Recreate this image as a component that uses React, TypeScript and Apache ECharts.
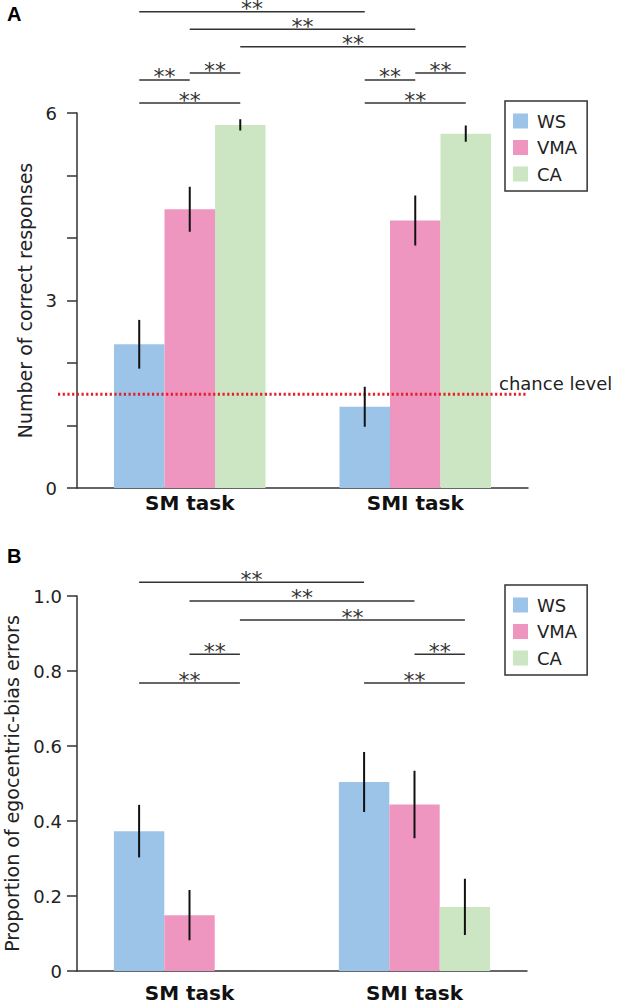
import React, { useEffect, useRef } from 'react';
import * as echarts from 'echarts';

const categories = ['SM task', 'SMI task'];
const groups = ['WS', 'VMA', 'CA'];
const colors = ['#9CC3E8', '#EE96BF', '#CCE5C2'];

// Panel A: number of correct responses (mean, SE)
const correctWS = [2.3, 1.3];
const correctVMA = [4.46, 4.28];
const correctCA = [5.81, 5.67];
const correctWSErr = [0.39, 0.32];
const correctVMAErr = [0.36, 0.4];
const correctCAErr = [0.09, 0.13];
const chanceLevel = 1.5;
const correctTickLabels = [0, 3, 6];

// Panel B: proportion of egocentric-bias errors (mean, SE)
const egoWS = [0.373, 0.504];
const egoVMA = [0.149, 0.444];
const egoCA = [0, 0.171];
const egoWSErr = [0.07, 0.08];
const egoVMAErr = [0.067, 0.09];
const egoCAErr = [0, 0.075];

// significance pairs: [group1, bar1, group2, bar2]
const correctSigPairs = [
  [0, 0, 1, 0], [0, 1, 1, 1], [0, 2, 1, 2],
  [0, 1, 0, 2], [0, 0, 0, 1], [0, 0, 0, 2],
  [1, 1, 1, 2], [1, 0, 1, 1], [1, 0, 1, 2],
];
const correctSigLevels = [7.62, 7.34, 7.06, 6.64, 6.53, 6.16, 6.64, 6.53, 6.16];
const egoSigPairs = [
  [0, 0, 1, 0], [0, 1, 1, 1], [0, 2, 1, 2],
  [0, 1, 0, 2], [0, 0, 0, 2],
  [1, 1, 1, 2], [1, 0, 1, 2],
];
const egoSigLevels = [1.037, 0.987, 0.936, 0.845, 0.768, 0.845, 0.768];

const FONT = 'DejaVu Sans';
const BAR_FRAC = 0.224;
const AX = '#333';

function errorData(vals: number[][], errs: number[][]) {
  const out: number[][] = [];
  vals.forEach((arr, i) => arr.forEach((v, c) => out.push([c, i, v, errs[i][c]])));
  return out;
}

function sigData(pairs: number[][], levels: number[]) {
  return pairs.map((p, i) => [...p, levels[i]]);
}

const errorRender = (params: any, api: any) => {
  const e = api.value(3);
  if (!e) return null;
  const cat = api.value(0);
  const s = api.value(1);
  const v = api.value(2);
  const bw = api.size([1, 0])[0] * BAR_FRAC;
  const cx = api.coord([cat, 0])[0] + (s - 1) * bw;
  const y1 = api.coord([cat, v + e])[1];
  const y2 = api.coord([cat, v - e])[1];
  return { type: 'line', shape: { x1: cx, y1, x2: cx, y2 }, style: { stroke: '#111', lineWidth: 2 } };
};

const sigRender = (params: any, api: any) => {
  const bw = api.size([1, 0])[0] * BAR_FRAC;
  const x1 = api.coord([api.value(0), 0])[0] + (api.value(1) - 1) * bw;
  const x2 = api.coord([api.value(2), 0])[0] + (api.value(3) - 1) * bw;
  const y = api.coord([0, api.value(4)])[1];
  return {
    type: 'group',
    children: [
      { type: 'line', shape: { x1, y1: y, x2, y2: y }, style: { stroke: AX, lineWidth: 1.5 } },
      {
        type: 'text',
        style: { text: '**', x: (x1 + x2) / 2, y: y - 14, align: 'center', verticalAlign: 'top', fontSize: 22, lineHeight: 22, fill: '#333', fontFamily: FONT },
      },
    ],
  };
};

const chanceRender = (params: any, api: any) => {
  const cs = params.coordSys;
  const y = api.coord([0, api.value(1)])[1];
  return {
    type: 'group',
    children: [
      { type: 'line', shape: { x1: cs.x - 19, y1: y, x2: cs.x + cs.width, y2: y }, style: { stroke: '#E3202A', lineWidth: 3, lineDash: [2.2, 2.5] } },
      { type: 'text', style: { text: 'chance level', x: cs.x + cs.width - 29, y: y - 11, align: 'left', verticalAlign: 'middle', fontSize: 18, fill: '#222', fontFamily: FONT } },
    ],
  };
};

export default function App() {
  const ref = useRef<HTMLDivElement>(null);
  useEffect(() => {
    document.body.style.margin = '0';
    const chart = echarts.init(ref.current!, null, { renderer: 'svg' });
    const correctVals = [correctWS, correctVMA, correctCA];
    const correctErrs = [correctWSErr, correctVMAErr, correctCAErr];
    const egoVals = [egoWS, egoVMA, egoCA];
    const egoErrs = [egoWSErr, egoVMAErr, egoCAErr];

    const axisLine = { show: true, lineStyle: { color: AX, width: 1.5 } };
    const xAxisBase = (gridIndex: number, margin: number) => ({
      type: 'category',
      gridIndex,
      data: categories,
      axisTick: { show: false },
      axisLine,
      axisLabel: { fontSize: 20, fontWeight: 'bold', color: '#111', margin, lineHeight: 20, fontFamily: FONT },
    });
    const legendBase = (top: number) => ({
      data: groups,
      orient: 'vertical',
      left: 505,
      top,
      icon: 'rect',
      itemWidth: 15,
      itemHeight: 15,
      itemGap: 6.5,
      borderColor: AX,
      borderWidth: 1.5,
      padding: [10, 10, 7, 8],
      selectedMode: false,
      textStyle: { fontSize: 18, color: '#222', lineHeight: 20, padding: [0, 0, 0, 4], fontFamily: FONT },
    });

    const series: any[] = [];
    [0, 1].forEach((gi) => {
      const vals = gi === 0 ? correctVals : egoVals;
      const errs = gi === 0 ? correctErrs : egoErrs;
      groups.forEach((g, i) => {
        series.push({
          type: 'bar',
          name: g,
          xAxisIndex: gi,
          yAxisIndex: gi,
          data: vals[i],
          barWidth: BAR_FRAC * 100 + '%',
          barGap: '0%',
          itemStyle: { color: colors[i] },
          silent: true,
          z: 2,
        });
      });
      series.push({
        type: 'custom',
        xAxisIndex: gi,
        yAxisIndex: gi,
        data: errorData(vals, errs),
        encode: { x: 0, y: 2 },
        renderItem: errorRender,
        silent: true,
        z: 5,
      });
      series.push({
        type: 'custom',
        xAxisIndex: gi,
        yAxisIndex: gi,
        data: gi === 0 ? sigData(correctSigPairs, correctSigLevels) : sigData(egoSigPairs, egoSigLevels),
        encode: { x: 0, y: 4 },
        renderItem: sigRender,
        clip: false,
        silent: true,
        z: 5,
      });
    });
    series.push({
      type: 'custom',
      xAxisIndex: 0,
      yAxisIndex: 0,
      data: [[0, chanceLevel]],
      encode: { x: 0, y: 1 },
      renderItem: chanceRender,
      clip: false,
      silent: true,
      z: 4,
    });

    chart.setOption({
      animation: false,
      textStyle: { fontFamily: FONT },
      grid: [
        { left: 77, top: 113, width: 451, height: 375, outerBoundsMode: 'none', containLabel: false },
        { left: 77, top: 596, width: 450, height: 375, outerBoundsMode: 'none', containLabel: false },
      ],
      xAxis: [xAxisBase(0, 5), xAxisBase(1, 12)],
      yAxis: [
        {
          type: 'value',
          gridIndex: 0,
          min: 0,
          max: 6,
          interval: 1,
          splitLine: { show: false },
          axisLine,
          axisTick: { show: true, length: 10, lineStyle: { color: AX, width: 1.5 } },
          axisLabel: {
            fontSize: 18,
            color: '#222',
            margin: 20,
            fontFamily: FONT,
            formatter: (v: number) => (correctTickLabels.includes(v) ? String(v) : ''),
          },
          name: 'Number of correct responses',
          nameLocation: 'middle',
          nameGap: 32,
          nameTextStyle: { fontSize: 19, color: '#222', fontFamily: FONT },
        },
        {
          type: 'value',
          gridIndex: 1,
          min: 0,
          max: 1,
          interval: 0.2,
          splitLine: { show: false },
          axisLine,
          axisTick: { show: true, length: 10, lineStyle: { color: AX, width: 1.5 } },
          axisLabel: {
            fontSize: 18,
            color: '#222',
            margin: 15,
            fontFamily: FONT,
            formatter: (v: number) => (v === 0 ? '0' : v.toFixed(1)),
          },
          name: 'Proportion of egocentric-bias errors',
          nameLocation: 'middle',
          nameGap: 56,
          nameTextStyle: { fontSize: 19, color: '#222', fontFamily: FONT },
        },
      ],
      legend: [legendBase(101), legendBase(585)],
      graphic: [
        { type: 'text', left: 7, top: 4, style: { text: 'A', fontSize: 20, fontWeight: 'bold', fill: '#000', fontFamily: 'Liberation Sans' } },
        { type: 'text', left: 7, top: 546, style: { text: 'B', fontSize: 20, fontWeight: 'bold', fill: '#000', fontFamily: 'Liberation Sans' } },
      ],
      series,
    });
    return () => chart.dispose();
  }, []);
  return <div ref={ref} style={{ width: 619, height: 1005 }} />;
}
